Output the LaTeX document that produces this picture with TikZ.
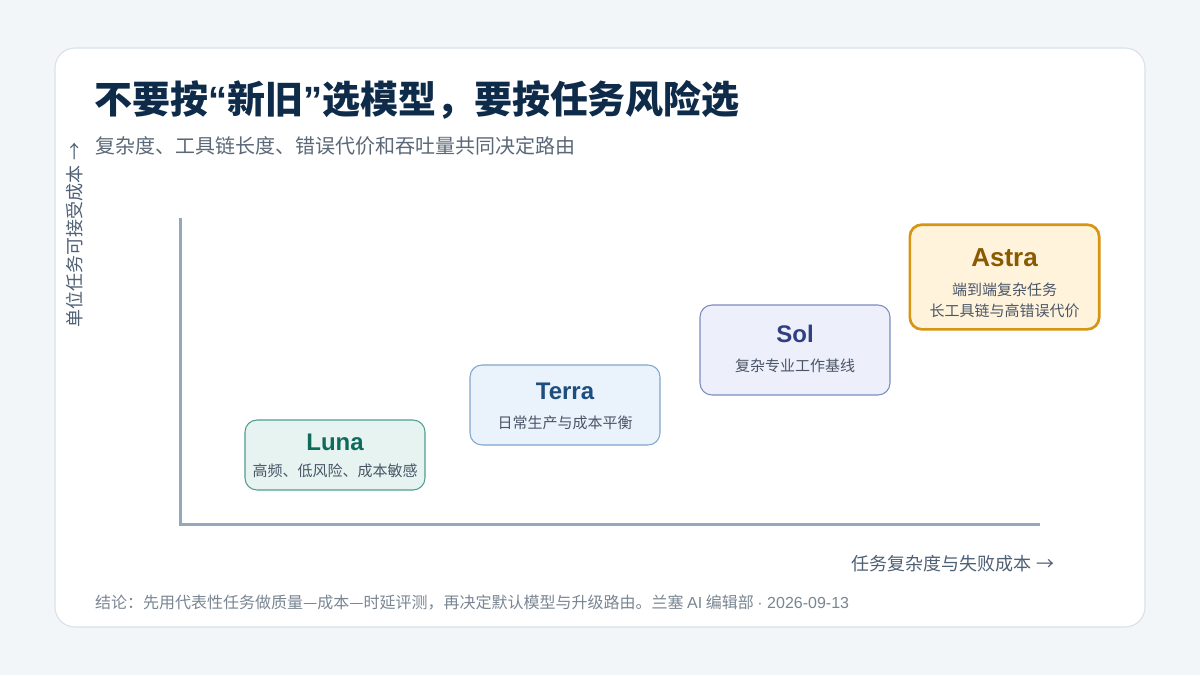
\documentclass[tikz,border=0pt]{standalone}
\usepackage{fontspec}
\setmainfont{Noto Sans CJK SC}
\newfontfamily\modelfont{Liberation Sans}

\definecolor{pagebg}{HTML}{F3F6F9}
\definecolor{cardline}{HTML}{D8E1EA}
\definecolor{titleblue}{HTML}{0F2B4A}
\definecolor{subgray}{HTML}{5B6877}
\definecolor{axisblue}{HTML}{94A7BB}
\definecolor{axistext}{HTML}{4F6075}
\definecolor{footgray}{HTML}{7A8693}
\definecolor{descgray}{HTML}{4A5668}
\definecolor{lunafill}{HTML}{E6F3F0}
\definecolor{lunaline}{HTML}{4E9E8E}
\definecolor{lunatext}{HTML}{0E6B5C}
\definecolor{terrafill}{HTML}{EAF2FB}
\definecolor{terraline}{HTML}{7FA6CC}
\definecolor{terratext}{HTML}{1D4E7E}
\definecolor{solfill}{HTML}{EDEFFA}
\definecolor{solline}{HTML}{7D8AC0}
\definecolor{soltext}{HTML}{2F3F82}
\definecolor{astrafill}{HTML}{FFF3DC}
\definecolor{astraline}{HTML}{D69512}
\definecolor{astratext}{HTML}{8A5A00}

\begin{document}
\begin{tikzpicture}[
    x=0.75pt, y=-0.75pt,
    every node/.style={inner sep=0pt, outer sep=0pt},
    card/.style={fill=white, draw=cardline, line width=0.8pt, rounded corners=15pt},
    axis/.style={draw=axisblue, line width=2.25pt},
    axislabel/.style={text=axistext, font=\fontsize{13.5pt}{16pt}\selectfont},
    modelbox/.style={fill=#1fill, draw=#1line, line width=0.8pt, rounded corners=9pt},
    modelname/.style={text=#1text, font=\modelfont\bfseries\fontsize{18pt}{21pt}\selectfont},
    modeldesc/.style={text=descgray, font=\fontsize{11.25pt}{14pt}\selectfont, align=center},
  ]
    % Page and card (pixel units, y downwards)
    \useasboundingbox[fill=pagebg] (0,0) rectangle (1200,675);
    \draw[card] (55,48) rectangle (1145,627);

    % Heading
    \node[anchor=west, text=titleblue, font=\bfseries\fontsize{28.5pt}{32pt}\selectfont]
      (title) at (94,100) {不要按{\modelfont “}新旧{\modelfont ”}选模型，要按任务风险选};
    \node[anchor=west, text=subgray, font=\fontsize{15pt}{18pt}\selectfont]
      (subtitle) at (95,146) {复杂度、工具链长度、错误代价和吞吐量共同决定路由};

    % Axes
    \coordinate (ytop) at (180,218);
    \coordinate (origin) at (180,524);
    \coordinate (xend) at (1040,524);
    \draw[axis] (ytop) -- (origin) -- (xend);
    \node[axislabel, rotate=90] (ylabel) at (75,235) {单位任务可接受成本 →};
    \node[axislabel, anchor=east] (xlabel) at (1054,564) {任务复杂度与失败成本 →};

    % Model boxes
    \node[modelbox=luna, minimum width=135pt, minimum height=52.5pt] (luna) at (335,455) {};
    \node[modelname=luna] (luna-name) at (335,442) {Luna};
    \node[modeldesc] (luna-desc) at (335,471) {高频、低风险、成本敏感};

    \node[modelbox=terra, minimum width=142.5pt, minimum height=60pt] (terra) at (565,405) {};
    \node[modelname=terra] (terra-name) at (565,391) {Terra};
    \node[modeldesc] (terra-desc) at (565,423) {日常生产与成本平衡};

    \node[modelbox=sol, minimum width=142.5pt, minimum height=67.5pt] (sol) at (795,350) {};
    \node[modelname=sol] (sol-name) at (795,334) {Sol};
    \node[modeldesc] (sol-desc) at (795,366) {复杂专业工作基线};

    \node[modelbox=astra, line width=2pt, minimum width=142pt, minimum height=78.5pt] (astra) at (1004.5,277) {};
    \node[modelname=astra, font=\modelfont\bfseries\fontsize{19.5pt}{22pt}\selectfont] (astra-name) at (1004.5,258) {Astra};
    \node[modeldesc] (astra-desc1) at (1004.5,290) {端到端复杂任务};
    \node[modeldesc] (astra-desc2) at (1004.5,311) {长工具链与高错误代价};

    % Footer
    \node[anchor=west, text=footgray, font=\fontsize{12pt}{14pt}\selectfont]
      (footer) at (95,603) {结论：先用代表性任务做质量—成本—时延评测，再决定默认模型与升级路由。兰塞 {\modelfont AI} 编辑部 {\modelfont · 2026-09-13}};
\end{tikzpicture}
\end{document}
